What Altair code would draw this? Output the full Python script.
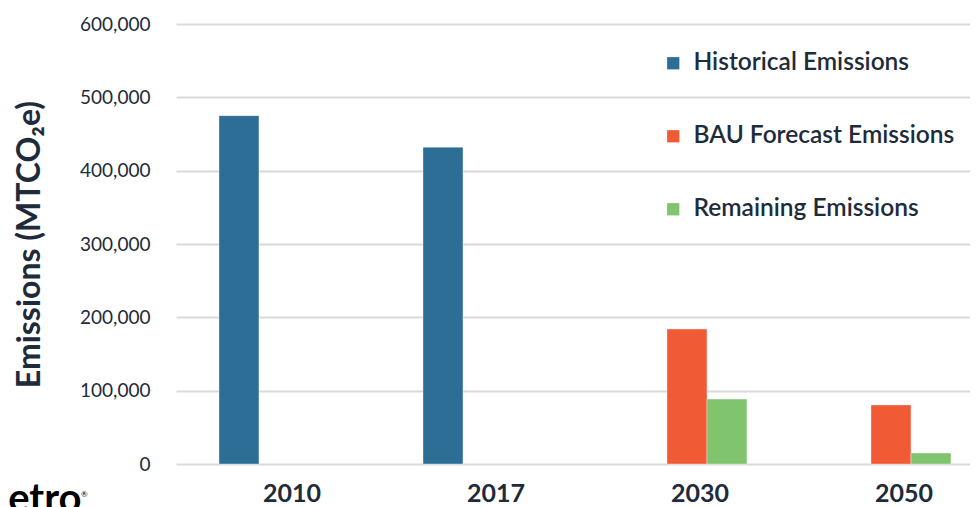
import altair as alt
import pandas as pd

years = ["2010", "2017", "2030", "2050"]
series = ["Historical Emissions", "BAU Forecast Emissions", "Remaining Emissions"]
colors = ["#2d6e96", "#f05a35", "#80c46e"]

bar_years = ["2010", "2017", "2030", "2030", "2050", "2050"]
bar_series = ["Historical Emissions", "Historical Emissions",
              "BAU Forecast Emissions", "Remaining Emissions",
              "BAU Forecast Emissions", "Remaining Emissions"]
bar_values = [475000, 432000, 184000, 88500, 80500, 15000]

y_ticks = [0, 100000, 200000, 300000, 400000, 500000, 600000]

df = pd.DataFrame({"year": bar_years, "series": bar_series, "value": bar_values})

FONT = "Lato"
TXT = "#1e2b3a"

bars = alt.Chart(df).mark_bar(stroke="white", strokeWidth=0.6, strokeOpacity=0.6).encode(
    x=alt.X("year:N", sort=years,
            scale=alt.Scale(domain=years, paddingInner=0.412, paddingOuter=0.152,
                            align=0.693, round=False),
            axis=alt.Axis(title=None, labelAngle=0, labelFont=FONT, labelFontSize=25,
                          labelFontWeight="bold", labelColor=TXT, ticks=False, domain=False,
                          labelPadding=17, labelOffset=13, grid=False)),
    xOffset=alt.XOffset("series:N", sort=series,
                        scale=alt.Scale(domain=series, paddingInner=0, paddingOuter=0, round=False)),
    y=alt.Y("value:Q", scale=alt.Scale(domain=[0, 600000], nice=False),
            axis=alt.Axis(values=y_ticks, format=",d", title="Emissions (MTCO₂e)",
                          labelFont=FONT, labelFontSize=19, labelColor=TXT,
                          ticks=False, domain=False, labelPadding=26,
                          gridColor="#d9d9d9", gridWidth=2,
                          titleFont=FONT, titleFontSize=32, titleFontWeight="bold",
                          titleColor=TXT, titleAngle=-90, titleX=-147, titleY=220,
                          titleAlign="center", titleBaseline="middle")),
    color=alt.Color("series:N", sort=series,
                    scale=alt.Scale(domain=series, range=colors),
                    legend=alt.Legend(title=None, orient="none", legendX=485, legendY=27,
                                      symbolType="square", symbolSize=150,
                                      symbolStrokeWidth=0, labelFont=FONT,
                                      labelFontSize=24.5, labelFontWeight=600, labelColor=TXT,
                                      labelLimit=500, rowPadding=48, labelOffset=8)),
)

logo = alt.Chart(pd.DataFrame({"t": ["Metro"]})).mark_text(
    font=FONT, fontSize=40, fontWeight="bold", color="black",
    align="left", baseline="alphabetic").encode(
    text="t:N", x=alt.value(-205), y=alt.value(488))
reg = alt.Chart(pd.DataFrame({"t": ["®"]})).mark_text(
    font=FONT, fontSize=8, color="black", align="left", baseline="alphabetic").encode(
    text="t:N", x=alt.value(-95), y=alt.value(473))

chart = alt.layer(bars, logo, reg).properties(
    width=794, height=440,
    autosize=alt.AutoSizeParams(type="none"),
    padding={"left": 168, "top": 16, "right": 0, "bottom": 43},
).configure(background="white").configure_view(stroke=None)

chart.save("out.html", embed_options={"renderer": "svg", "actions": False})
